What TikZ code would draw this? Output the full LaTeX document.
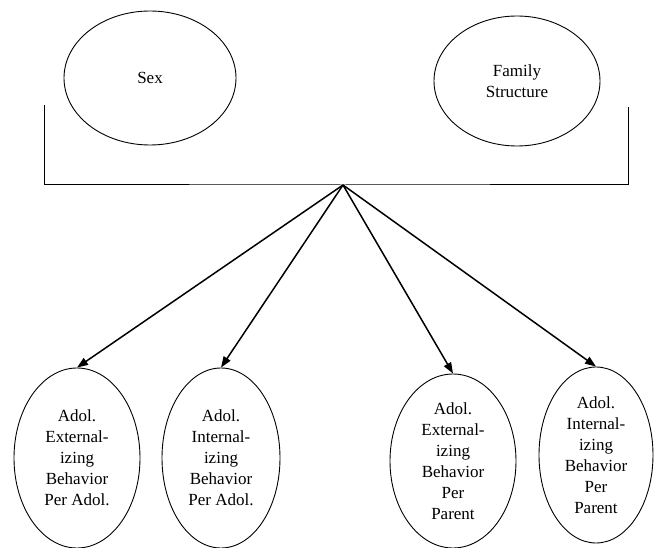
\documentclass[tikz,border=0pt]{standalone}
\usepackage{fontspec}
\setmainfont{Liberation Serif}
\usetikzlibrary{shapes.geometric,arrows.meta}
\begin{document}
\begin{tikzpicture}[x=1pt,y=-1pt,
  oval/.style={draw,ellipse,line width=0.9pt,inner sep=0pt,align=center,
    font=\fontsize{17}{21}\selectfont},
  conn/.style={line width=1.5pt,-{Triangle[length=11pt,width=8pt]}},
  bracket/.style={line width=1pt}]
\useasboundingbox (0,0) rectangle (654,548);
\node[oval,minimum width=172pt,minimum height=134pt] (sex) at (150,78) {Sex};
\node[oval,minimum width=166pt,minimum height=130pt] (fam) at (517,81) {Family\\Structure};
\coordinate (apex) at (343,185);
\coordinate (bl) at (44,105);
\coordinate (br) at (628,107);
\draw[bracket] (bl) |- (apex) -| (br);
\node[oval,minimum width=126pt,minimum height=180pt] (e1) at (77,458)
  {Adol.\\External-\\izing\\Behavior\\Per Adol.};
\node[oval,minimum width=118pt,minimum height=180pt] (e2) at (221,458)
  {Adol.\\Internal-\\izing\\Behavior\\Per Adol.};
\node[oval,minimum width=126pt,minimum height=174pt] (e3) at (453,461)
  {Adol.\\External-\\izing\\Behavior\\Per\\Parent};
\node[oval,minimum width=114pt,minimum height=176pt] (e4) at (596,455)
  {Adol.\\Internal-\\izing\\Behavior\\Per\\Parent};
\draw[conn] (apex) -- (e1.north);
\draw[conn] (apex) -- (e2.north);
\draw[conn] (apex) -- (e3.north);
\draw[conn] (apex) -- (e4.north);
\end{tikzpicture}
\end{document}
